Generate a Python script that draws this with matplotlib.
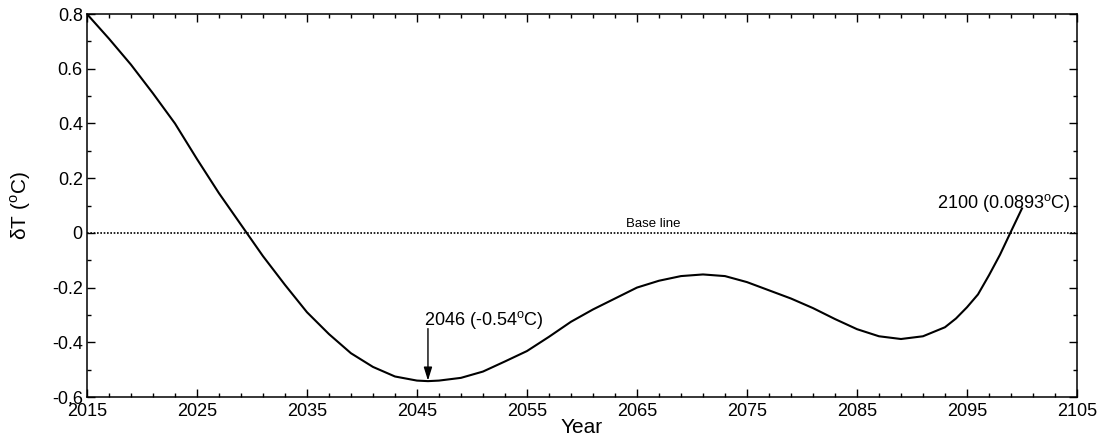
import numpy as np
import matplotlib
matplotlib.use("Agg")
import matplotlib.pyplot as plt

plt.rcParams['font.family'] = ['Liberation Sans', 'DejaVu Sans']
plt.rcParams['mathtext.fontset'] = 'custom'
plt.rcParams['mathtext.rm'] = 'Liberation Sans'

# Data -----------------------------------------------------------------------
years = [2015, 2017, 2019, 2021, 2023, 2025, 2027, 2029, 2031, 2033, 2035,
         2037, 2039, 2041, 2043, 2045, 2046, 2047, 2049, 2051, 2053, 2055,
         2057, 2059, 2061, 2063, 2065, 2067, 2069, 2071, 2073, 2075, 2077,
         2079, 2081, 2083, 2085, 2087, 2089, 2091, 2093, 2094, 2095, 2096,
         2097, 2098, 2099, 2100]
dT = [0.80, 0.71, 0.615, 0.51, 0.40, 0.27, 0.145, 0.03, -0.085, -0.19,
      -0.29, -0.37, -0.44, -0.49, -0.525, -0.54, -0.542, -0.54, -0.53,
      -0.507, -0.47, -0.432, -0.38, -0.325, -0.28, -0.24, -0.20, -0.175,
      -0.158, -0.152, -0.158, -0.18, -0.21, -0.24, -0.275, -0.315, -0.352,
      -0.378, -0.388, -0.378, -0.345, -0.313, -0.272, -0.225, -0.155,
      -0.08, 0.005, 0.0893]

xticks = [2015, 2025, 2035, 2045, 2055, 2065, 2075, 2085, 2095, 2105]
yticks = [-0.6, -0.4, -0.2, 0, 0.2, 0.4, 0.6, 0.8]
ytick_labels = ['-0.6', '-0.4', '-0.2', '0', '0.2', '0.4', '0.6', '0.8']

min_year, min_val = 2046, -0.54
end_year, end_val = 2100, 0.0893

# Plot -----------------------------------------------------------------------
fig = plt.figure(figsize=(11.02, 4.38), dpi=100)
ax = fig.add_axes([0.0789, 0.0936, 0.8984, 0.8744])

ax.plot(years, dT, color='black', lw=1.5)
ax.axhline(0, color='black', lw=1.2, ls=(0, (1, 1)))
ax.text(2066.5, 0.012, 'Base line', fontsize=9.5, ha='center', va='bottom')

# minimum marker and end value
ax.annotate('', xy=(min_year, min_val), xytext=(min_year, -0.35),
            arrowprops=dict(arrowstyle='-|>,head_length=0.8,head_width=0.25',
                            color='black', lw=1, shrinkA=0, shrinkB=0))
ax.text(2045.6, -0.32, '%d (%.2f$^{\\rm o}$C)' % (min_year, min_val),
        fontsize=13, ha='left', va='center')
ax.text(2104.4, 0.109, '%d (%.4f$^{\\rm o}$C)' % (end_year, end_val),
        fontsize=13, ha='right', va='center')

ax.set_xlim(2015, 2105)
ax.set_ylim(-0.6, 0.8)
ax.set_xticks(xticks)
ax.set_xticks(np.arange(2015, 2106, 2), minor=True)
ax.set_yticks(yticks)
ax.set_yticklabels(ytick_labels)
ax.set_yticks(np.arange(-0.6, 0.81, 0.1), minor=True)
ax.tick_params(which='both', direction='in', top=True, right=True,
               labelsize=13, width=1)
ax.tick_params(which='major', length=6)
ax.tick_params(which='minor', length=3.2)
ax.tick_params(axis='x', pad=4)
ax.tick_params(axis='y', pad=3)
for s in ax.spines.values():
    s.set_linewidth(1.1)

ax.set_xlabel('Year', fontsize=15)
ax.xaxis.set_label_coords(0.5, -0.054)
ax.set_ylabel('δT ($^{\\rm o}$C)', fontsize=15)
ax.yaxis.set_label_coords(-0.0545, 0.5)

fig.savefig('out.png', dpi=100)
